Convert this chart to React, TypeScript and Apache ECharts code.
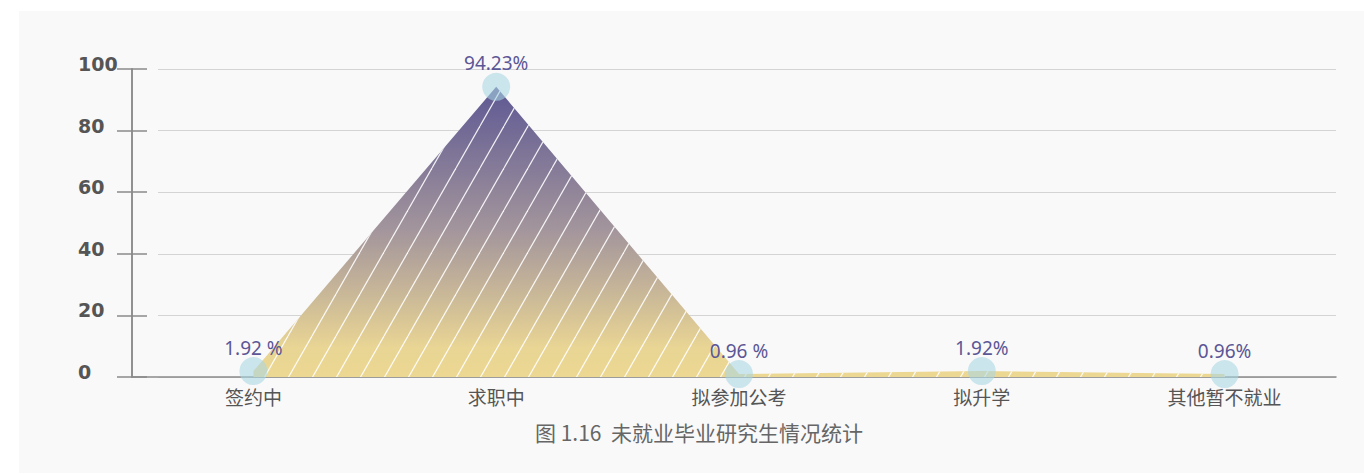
import React, { useEffect, useRef } from "react";
import * as echarts from "echarts";

const categories = ["签约中", "求职中", "拟参加公考", "拟升学", "其他暂不就业"];
const values = [1.92, 94.23, 0.96, 1.92, 0.96];
const valueLabels = ["1.92 %", "94.23%", "0.96 %", "1.92%", "0.96%"];
const yMin = 0;
const yMax = 100;
const yInterval = 20;
const caption = "图 1.16  未就业毕业研究生情况统计";

function makeHatch(): string {
  const w = 24;
  const h = 42;
  const c = document.createElement("canvas");
  c.width = w;
  c.height = h;
  const ctx = c.getContext("2d");
  if (ctx) {
    ctx.strokeStyle = "rgba(255,255,255,0.9)";
    ctx.lineWidth = 1.2;
    for (const k of [-1, 0, 1]) {
      ctx.beginPath();
      ctx.moveTo(k * w, h);
      ctx.lineTo(k * w + w, 0);
      ctx.stroke();
    }
  }
  return c.toDataURL();
}

export default function App() {
  const ref = useRef<HTMLDivElement>(null);
  useEffect(() => {
    if (!ref.current) return;
    const chart = echarts.init(ref.current, null, { renderer: "svg" });
    const hatch = makeHatch();
    const axisGray = "#8a8a8a";
    chart.setOption({
      animation: false,
      backgroundColor: "#ffffff",
      title: {
        text: caption,
        left: 535,
        top: 421,
        padding: 0,
        textStyle: {
          fontSize: 21,
          color: "#666666",
          fontWeight: "normal",
          fontFamily: "Noto Sans CJK SC",
        },
      },
      graphic: [
        {
          type: "rect",
          z: -10,
          silent: true,
          shape: { x: 19, y: 11, width: 1345, height: 462 },
          style: { fill: "#f9f9f9" },
        },
      ],
      grid: [
        { left: 132, right: 18, top: 69, bottom: 97 },
        { left: 132, right: 28, top: 69, bottom: 97 },
        { left: 158, right: 28, top: 69, bottom: 97 },
      ],
      xAxis: [
        {
          type: "category",
          gridIndex: 0,
          data: categories,
          boundaryGap: true,
          axisLine: { show: false },
          axisTick: { show: false },
          splitLine: { show: false },
          axisLabel: {
            margin: 10,
            fontSize: 19,
            color: "#555555",
            fontFamily: "Noto Sans CJK SC",
          },
        },
        {
          type: "value",
          gridIndex: 1,
          position: "bottom",
          min: 0,
          max: 1,
          axisLine: { show: true, lineStyle: { color: axisGray, width: 1.5 } },
          axisTick: { show: false },
          axisLabel: { show: false },
          splitLine: { show: false },
        },
        {
          type: "value",
          gridIndex: 2,
          min: 0,
          max: 1,
          show: false,
        },
      ],
      yAxis: [
        {
          type: "value",
          gridIndex: 0,
          min: yMin,
          max: yMax,
          interval: yInterval,
          show: false,
        },
        {
          type: "value",
          gridIndex: 1,
          position: "left",
          min: yMin,
          max: yMax,
          interval: yInterval,
          axisLine: { show: true, lineStyle: { color: axisGray, width: 1.5 } },
          axisTick: { show: true, length: 15, lineStyle: { color: axisGray, width: 1.5 } },
          splitLine: { show: false },
          axisLabel: {
            align: "left",
            margin: 54,
            fontSize: 19,
            fontWeight: "bold",
            color: "#555555",
            fontFamily: "DejaVu Sans",
            verticalAlign: "bottom",
            lineHeight: 10,
          },
        },
        {
          type: "value",
          gridIndex: 1,
          position: "left",
          offset: 0,
          min: yMin,
          max: yMax,
          interval: yInterval,
          axisLine: { show: true, lineStyle: { color: axisGray, width: 1.5 } },
          axisTick: { show: true, inside: true, length: 15, lineStyle: { color: axisGray, width: 1.5 } },
          axisLabel: { show: false },
          splitLine: { show: false },
        },
        {
          type: "value",
          gridIndex: 2,
          position: "left",
          min: yMin,
          max: yMax,
          interval: yInterval,
          axisLine: { show: false },
          axisTick: { show: false },
          axisLabel: { show: false },
          splitLine: { show: true, lineStyle: { color: "#d4d4d4", width: 1 } },
        },
      ],
      series: [
        {
          type: "line",
          xAxisIndex: 0,
          yAxisIndex: 0,
          data: values,
          z: 2,
          silent: true,
          symbol: "none",
          lineStyle: { width: 0, opacity: 0 },
          areaStyle: {
            opacity: 1,
            color: new echarts.graphic.LinearGradient(0, 0, 0, 1, [
              { offset: 0, color: "#5e5893" },
              { offset: 0.5, color: "#a4969c" },
              { offset: 0.9, color: "#e9d594" },
              { offset: 1, color: "#ecd892" },
            ]),
          },
        },
        {
          type: "line",
          xAxisIndex: 0,
          yAxisIndex: 0,
          data: values,
          z: 3,
          symbol: "circle",
          symbolSize: 28,
          itemStyle: { color: "rgba(168,214,228,0.58)" },
          lineStyle: { width: 0, opacity: 0 },
          areaStyle: {
            opacity: 1,
            color: {
              image: hatch,
              repeat: "repeat",
              imageWidth: 24,
              imageHeight: 42,
            },
          },
          label: {
            show: true,
            position: "top",
            distance: 0,
            fontSize: 19,
            color: "#5b5696",
            fontFamily: "Noto Sans",
            formatter: (p: any) => valueLabels[p.dataIndex],
          },
        },
      ],
    });
    return () => chart.dispose();
  }, []);
  return (
    <div
      ref={ref}
      style={{ position: "fixed", left: 0, top: 0, width: 1364, height: 474 }}
    />
  );
}
